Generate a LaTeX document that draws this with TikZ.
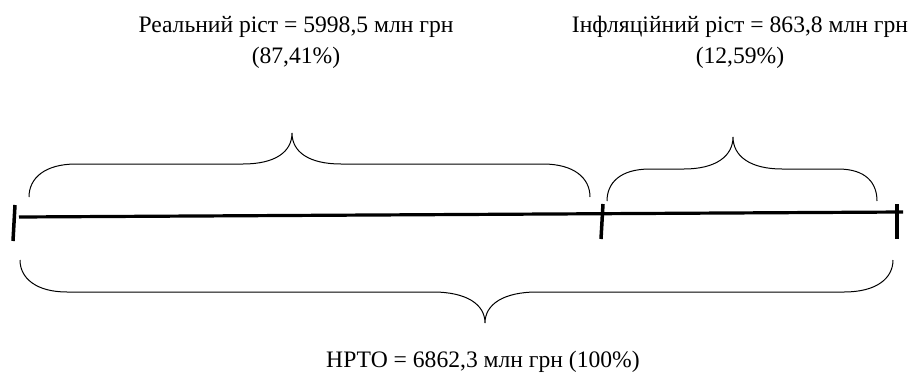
\documentclass[tikz,border=0pt]{standalone}
\usepackage{fontspec}
\setmainfont{Liberation Serif}
\begin{document}
\begin{tikzpicture}[x=1pt,y=-1pt,
  lbl/.style={inner sep=0pt,align=center,font=\fontsize{23.6}{31}\selectfont},
  axis/.style={line width=3.2pt},
  tickmark/.style={line width=3.5pt},
  bracepath/.style={line width=1pt}]
\useasboundingbox (0,0) rectangle (918,380);
% axis end points
\coordinate (A) at (19,217);
\coordinate (B) at (903,212);
\draw[axis] (A) -- (B);
% ticks
\coordinate (t1a) at (15,205); \coordinate (t1b) at (13,241);
\coordinate (t2a) at (603,204); \coordinate (t2b) at (601,239);
\coordinate (t3a) at (897,204); \coordinate (t3b) at (897,239);
\draw[tickmark] (t1a) -- (t1b);
\draw[tickmark] (t2a) -- (t2b);
\draw[tickmark] (t3a) -- (t3b);
% top-left brace
\draw[bracepath] (29,197) .. controls (29,178) and (45,164) .. (76,164) -- (243,164)
  .. controls (275,164) and (292,152) .. (292,133)
  .. controls (292,152) and (309,164) .. (341,164) -- (543,164)
  .. controls (574,164) and (590,178) .. (590,197);
% top-right brace
\draw[bracepath] (607,201) .. controls (607,183) and (620,169) .. (650,169) -- (684,169)
  .. controls (716,169) and (733,156) .. (733,137)
  .. controls (733,156) and (750,169) .. (782,169) -- (838,169)
  .. controls (866,169) and (877,183) .. (877,201);
% bottom brace
\draw[bracepath] (20,260) .. controls (20,278) and (36,292) .. (67,292) -- (433,292)
  .. controls (466,292) and (485,304) .. (485,323)
  .. controls (485,304) and (504,292) .. (537,292) -- (844,292)
  .. controls (877,292) and (893,278) .. (893,260);
% labels
\node[lbl,anchor=base] (real) at (296,63) {Реальний ріст = 5998,5 млн грн\\(87,41\%)};
\node[lbl,anchor=base] (infl) at (740,63) {Інфляційний ріст = 863,8 млн грн\\(12,59\%)};
\node[lbl,anchor=base] (nrto) at (483,367) {НРТО = 6862,3 млн грн (100\%)};
\end{tikzpicture}
\end{document}
